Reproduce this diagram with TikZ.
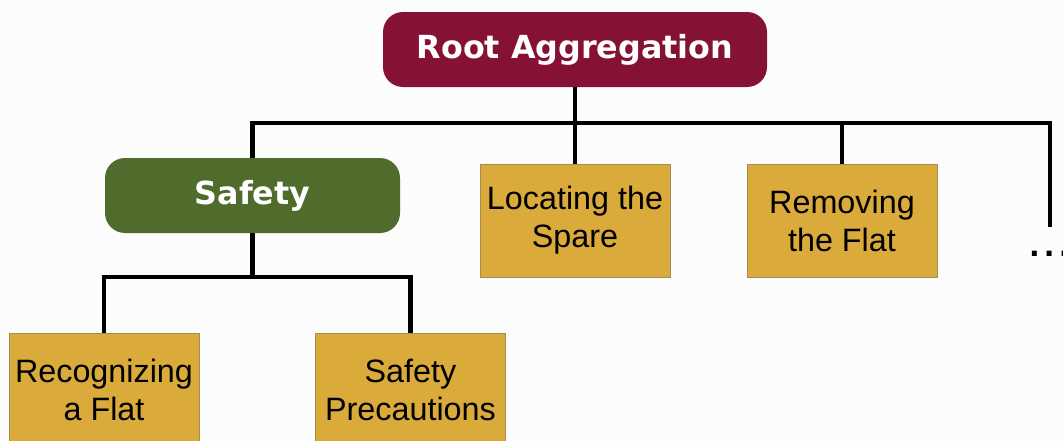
\documentclass[tikz,border=0pt]{standalone}
\usepackage{fontspec}
\setmainfont{Liberation Sans}
\newfontfamily\headfont{DejaVu Sans}
\usetikzlibrary{positioning}
\definecolor{rootRed}{RGB}{133,18,52}
\definecolor{safetyGreen}{RGB}{80,108,45}
\definecolor{taskGold}{RGB}{218,170,58}
\definecolor{taskEdge}{RGB}{165,140,80}
\definecolor{paperWhite}{RGB}{252,252,252}
\tikzset{
  headbox/.style={rounded corners=0.5cm, inner sep=0pt, minimum height=1.875cm, text=white, font=\headfont\bfseries\fontsize{22.6}{26}\selectfont},
  rootbox/.style={headbox, fill=rootRed, minimum width=9.6cm},
  groupbox/.style={headbox, fill=safetyGreen, minimum width=7.375cm},
  taskbox/.style={draw=taskEdge, line width=0.6pt, fill=taskGold, align=center, minimum width=4.75cm, minimum height=2.825cm, inner sep=0pt, font=\fontsize{23}{27}\selectfont},
  link/.style={line width=3.5pt, draw=black}
}

\begin{document}
\begin{tikzpicture}
    \clip (0,0) rectangle (26.575,-11.025);
    \fill[paperWhite] (0,0) rectangle (26.575,-11.025);
    \node[rootbox] (root) at (14.375,-1.2375) {Root Aggregation};
    \node[groupbox] (safety) at (6.3125,-4.8875) {Safety};
    \node[taskbox] (locate) at (14.375,-5.5125) {Locating the\\Spare};
    \node[taskbox] (remove) at (21.05,-5.5125) {Removing\\the Flat};
    \node[taskbox] (recog) at (2.6,-9.7375) {Recognizing\\a Flat};
    \node[taskbox] (precaut) at (10.2625,-9.7375) {Safety\\Precautions};
    \node[anchor=base west, inner sep=0pt, font=\headfont\bfseries\fontsize{20}{20}\selectfont] (more) at (25.72,-6.42) {.\kern3pt.\kern3pt.};
    \coordinate (busR) at (26.25,-3.075);
    \coordinate (busEnd) at (26.25,-5.675);
    \coordinate (fork) at (6.3125,-6.925);
    \draw[link] (safety.north) |- (busR) -- (busEnd);
    \draw[link] (root.south) -- (locate.north);
    \draw[link] (remove.north) -- (remove.north |- busR);
    \draw[link] (safety.south) -- (fork);
    \draw[link] (recog.north) |- (fork) -| (precaut.north);
  \end{tikzpicture}
\end{document}
